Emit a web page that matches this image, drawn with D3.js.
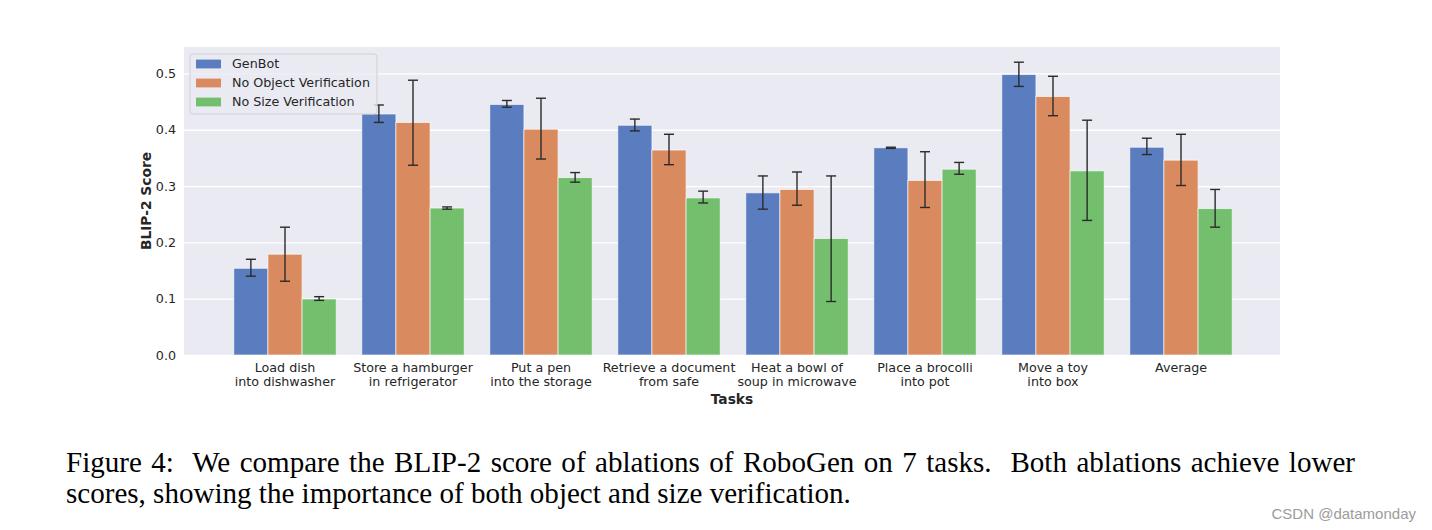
<!DOCTYPE html>
<html>
<head>
<meta charset="utf-8">
<script src="https://cdn.jsdelivr.net/npm/d3@7"></script>
<style>
  html, body { margin: 0; padding: 0; background: #ffffff; }
  svg { display: block; }
</style>
</head>
<body>
<svg id="chart" width="1432" height="530"></svg>
<script>
// ---- data ----
const categories = [
  ["Load dish", "into dishwasher"],
  ["Store a hamburger", "in refrigerator"],
  ["Put a pen", "into the storage"],
  ["Retrieve a document", "from safe"],
  ["Heat a bowl of", "soup in microwave"],
  ["Place a brocolli", "into pot"],
  ["Move a toy", "into box"],
  ["Average"]
];
const seriesNames = ["GenBot", "No Object Verification", "No Size Verification"];
const genbot      = [0.154, 0.428, 0.445, 0.408, 0.288, 0.368, 0.498, 0.369];
const genbotLow   = [0.140, 0.413, 0.440, 0.398, 0.259, 0.367, 0.477, 0.356];
const genbotHigh  = [0.170, 0.444, 0.452, 0.419, 0.318, 0.369, 0.520, 0.385];
const noObj       = [0.179, 0.413, 0.401, 0.364, 0.294, 0.310, 0.459, 0.346];
const noObjLow    = [0.131, 0.337, 0.348, 0.338, 0.266, 0.262, 0.425, 0.301];
const noObjHigh   = [0.227, 0.488, 0.456, 0.392, 0.325, 0.361, 0.495, 0.392];
const noSize      = [0.0995, 0.261, 0.315, 0.279, 0.207, 0.330, 0.327, 0.260];
const noSizeLow   = [0.097, 0.259, 0.307, 0.270, 0.095, 0.321, 0.239, 0.227];
const noSizeHigh  = [0.1036, 0.263, 0.324, 0.291, 0.318, 0.342, 0.417, 0.294];
const yTicks = [0.0, 0.1, 0.2, 0.3, 0.4, 0.5];
const yLabel = "BLIP-2 Score";
const xLabel = "Tasks";
const captionLine1 = "Figure 4:  We compare the BLIP-2 score of ablations of RoboGen on 7 tasks.  Both ablations achieve lower";
const captionLine2 = "scores, showing the importance of both object and size verification.";
const watermark = "CSDN @datamonday";

// ---- styles ----
const colors = ["#5a7dbf", "#d98a5e", "#74bf6e"];
const font = "'DejaVu Sans', sans-serif";
const tickSize = 12.7;
const textColor = "#262626";

const svg = d3.select("#chart");
const plot = { left: 184, right: 1280, top: 47, bottom: 355 };

const catKeys = categories.map((c, i) => "c" + i);
const x = d3.scaleBand().domain(catKeys).range([221, 1245]).paddingInner(0).paddingOuter(0);
const xs = d3.scaleBand().domain(seriesNames)
  .range([x.bandwidth() * 0.1, x.bandwidth() * 0.9]).padding(0);
const y = d3.scaleLinear().domain([0, 0.547]).range([plot.bottom, plot.top]);

// background
svg.append("rect")
  .attr("x", plot.left).attr("y", plot.top)
  .attr("width", plot.right - plot.left).attr("height", plot.bottom - plot.top)
  .attr("fill", "#eaeaf2");

// gridlines + y tick labels
const yAxis = d3.axisLeft(y).tickValues(yTicks).tickFormat(d3.format(".1f"))
  .tickSize(-(plot.right - plot.left)).tickPadding(8);
const gy = svg.append("g").attr("transform", `translate(${plot.left},0)`).call(yAxis);
gy.select(".domain").remove();
gy.selectAll(".tick line").attr("stroke", "#ffffff").attr("stroke-width", 1.3);
gy.selectAll(".tick text").attr("font-family", font).attr("font-size", tickSize)
  .attr("fill", textColor);

// x axis labels
const xAxis = d3.axisBottom(x).tickSize(0).tickFormat(() => "");
const gx = svg.append("g").attr("transform", `translate(0,${plot.bottom})`).call(xAxis);
gx.select(".domain").remove();
gx.selectAll(".tick").each(function(d, i) {
  const t = d3.select(this).append("text")
    .attr("font-family", font).attr("font-size", tickSize)
    .attr("fill", textColor).attr("text-anchor", "middle");
  categories[i].forEach((line, j) => {
    t.append("tspan").attr("x", 0).attr("y", 17 + j * 14.2).text(line);
  });
});

// bars
const series = [
  { name: seriesNames[0], v: genbot, lo: genbotLow, hi: genbotHigh },
  { name: seriesNames[1], v: noObj, lo: noObjLow, hi: noObjHigh },
  { name: seriesNames[2], v: noSize, lo: noSizeLow, hi: noSizeHigh }
];
series.forEach((s, si) => {
  const g = svg.append("g");
  g.selectAll("rect").data(s.v).join("rect")
    .attr("x", (d, i) => x(catKeys[i]) + xs(s.name))
    .attr("width", xs.bandwidth())
    .attr("y", d => y(d))
    .attr("height", d => y(0) - y(d))
    .attr("fill", colors[si])
    .attr("stroke", "#ffffff").attr("stroke-opacity", 0.7).attr("stroke-width", 0.9);
});
// error bars
series.forEach((s) => {
  const g = svg.append("g").attr("stroke", "#2b2b2b").attr("stroke-width", 1.4).attr("fill", "none");
  s.v.forEach((d, i) => {
    const cx = x(catKeys[i]) + xs(s.name) + xs.bandwidth() / 2;
    g.append("line").attr("x1", cx).attr("x2", cx).attr("y1", y(s.lo[i])).attr("y2", y(s.hi[i]));
    [s.lo[i], s.hi[i]].forEach(v => {
      g.append("line").attr("x1", cx - 5).attr("x2", cx + 5).attr("y1", y(v)).attr("y2", y(v));
    });
  });
});

// axis titles
svg.append("text").attr("x", (plot.left + plot.right) / 2).attr("y", 404)
  .attr("text-anchor", "middle").attr("font-family", font).attr("font-weight", "bold")
  .attr("font-size", 13.8).attr("fill", textColor).text(xLabel);
svg.append("text")
  .attr("transform", `translate(151,${(plot.top + plot.bottom) / 2}) rotate(-90)`)
  .attr("text-anchor", "middle").attr("font-family", font).attr("font-weight", "bold")
  .attr("font-size", 13.8).attr("fill", textColor).text(yLabel);

// legend
const lg = svg.append("g");
lg.append("rect").attr("x", 190).attr("y", 54).attr("width", 187).attr("height", 60)
  .attr("rx", 3).attr("fill", "#eaeaf2").attr("fill-opacity", 0.8)
  .attr("stroke", "#cfcfd4").attr("stroke-width", 1);
seriesNames.forEach((n, i) => {
  const cy = 64 + i * 19;
  lg.append("rect").attr("x", 196).attr("y", cy - 4.4).attr("width", 25).attr("height", 8.8)
    .attr("fill", colors[i]);
  lg.append("text").attr("x", 232).attr("y", cy).attr("dy", "0.35em")
    .attr("font-family", font).attr("font-size", tickSize).attr("fill", textColor).text(n);
});

// caption
const serif = "'Liberation Serif', 'Times New Roman', serif";
const c2 = svg.append("text").attr("x", 66).attr("y", 503.3)
  .attr("font-family", serif).attr("font-size", 28).attr("fill", "#000")
  .style("white-space", "pre").text(captionLine2);
const w2 = c2.node().getComputedTextLength();
const fs = 28 * (851 - 66) / w2;
c2.attr("font-size", fs);
const c1 = svg.append("text").attr("x", 66).attr("y", 471.7)
  .attr("font-family", serif).attr("font-size", fs).attr("fill", "#000")
  .style("white-space", "pre").text(captionLine1);
const w1 = c1.node().getComputedTextLength();
const nSpaces = (captionLine1.match(/ /g) || []).length;
c1.attr("word-spacing", ((1355 - 66) - w1) / nSpaces);

// watermark
svg.append("text").attr("x", 1416).attr("y", 518.7).attr("text-anchor", "end")
  .attr("font-family", "'Liberation Sans', Arial, sans-serif").attr("font-size", 15)
  .attr("fill", "#9c9c9c").text(watermark);
</script>
</body>
</html>
